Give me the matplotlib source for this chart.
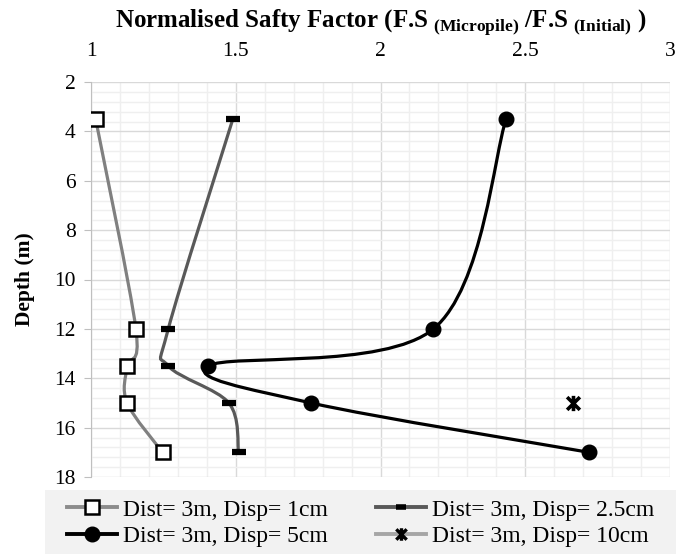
import numpy as np
import matplotlib
matplotlib.use("Agg")
import matplotlib.pyplot as plt
from matplotlib.path import Path
from matplotlib.patches import PathPatch, Rectangle
from matplotlib.lines import Line2D
from matplotlib.ticker import MultipleLocator

plt.rcParams['font.family'] = ['Liberation Serif', 'DejaVu Serif']
plt.rcParams['mathtext.fontset'] = 'custom'
plt.rcParams['mathtext.rm'] = 'Liberation Serif'
plt.rcParams['mathtext.bf'] = 'Liberation Serif:bold'

# data
depth = [3.5, 12, 13.5, 15, 17]
fs_1cm = [1.016, 1.155, 1.125, 1.125, 1.247]
fs_25cm = [1.49, 1.267, 1.267, 1.476, 1.51]
fs_5cm = [2.434, 2.183, 1.405, 1.76, 2.72]
depth_10cm = [15]
fs_10cm = [2.666]

labels = ["Dist= 3m, Disp= 1cm", "Dist= 3m, Disp= 2.5cm",
          "Dist= 3m, Disp= 5cm", "Dist= 3m, Disp= 10cm"]

star = Path([(-1, -1), (1, 1), (-1, 1), (1, -1), (0, -1.2), (0, 1.2)],
            [Path.MOVETO, Path.LINETO, Path.MOVETO, Path.LINETO, Path.MOVETO, Path.LINETO])


def smooth_path(xs, ys):
    # excel-like smoothed line: cubic bezier, catmull-rom control points
    pts = np.column_stack([xs, ys]).astype(float)
    n = len(pts)
    verts = [pts[0]]
    codes = [Path.MOVETO]
    for i in range(n - 1):
        p0 = pts[i - 1] if i > 0 else pts[i]
        p1 = pts[i]
        p2 = pts[i + 1]
        p3 = pts[i + 2] if i + 2 < n else pts[i + 1]
        verts += [p1 + (p2 - p0) / 6, p2 - (p3 - p1) / 6, p2]
        codes += [Path.CURVE4] * 3
    return Path(verts, codes)


fig = plt.figure(figsize=(6.76, 5.54), dpi=100)
ax = fig.add_axes([91 / 676, 1 - 477 / 554, 579 / 676, 395 / 554])

series = [
    (fs_1cm, '#808080', dict(marker='s', ms=10, mfc='white', mec='black', mew=1.8)),
    (fs_25cm, '#595959', dict(marker='_', ms=10, mec='black', mew=4.5)),
    (fs_5cm, 'black', dict(marker='o', ms=10.5, mfc='black', mec='black')),
]
for xs, col, mk in series:
    ax.add_patch(PathPatch(smooth_path(xs, depth), fill=False, edgecolor=col, lw=2.3, zorder=3))
    ax.plot(xs, depth, ls='none', zorder=4, **mk)
ax.plot(fs_10cm, depth_10cm, ls='none', marker=star, ms=11, mec='black', mew=2.6, zorder=4)

ax.set_xlim(1, 3)
ax.set_ylim(18, 2)
ax.xaxis.set_major_locator(MultipleLocator(0.5))
ax.xaxis.set_minor_locator(MultipleLocator(0.1))
ax.yaxis.set_major_locator(MultipleLocator(2))
ax.yaxis.set_minor_locator(MultipleLocator(0.4))
ax.set_xticks([1, 1.5, 2, 2.5, 3])
ax.set_xticklabels(['1', '1.5', '2', '2.5', '3'])
ax.xaxis.tick_top()
ax.xaxis.set_label_position('top')
ax.tick_params(axis='x', which='both', length=0, labelsize=15.5, pad=15)
ax.tick_params(axis='y', which='major', length=5, color='#bfbfbf', labelsize=15.5, pad=6)
ax.tick_params(axis='y', which='minor', length=0)
ax.grid(True, which='major', color='#d9d9d9', lw=1)
ax.grid(True, which='minor', color='#efefef', lw=1)
ax.set_axisbelow(True)
for s in ['top', 'right', 'bottom']:
    ax.spines[s].set_visible(False)
ax.spines['left'].set_color('#bfbfbf')

ax.set_xlabel(r'Normalised Safty Factor (F.S$_{\mathbf{\ (Micropile)}}$ /F.S$_{\mathbf{\ (Initial)}}$ )',
              fontsize=18, fontweight='bold', labelpad=11)
ax.set_ylabel('Depth (m)', fontsize=15.5, fontweight='bold', labelpad=14)

# legend with grey band
fig.patches.append(Rectangle((45 / 676, 0), 1, 64 / 554, transform=fig.transFigure,
                             facecolor='#f2f2f2', edgecolor='none', zorder=0))
handles = [
    Line2D([], [], color='#8c8c8c', lw=2.8, marker='s', ms=10, mfc='white', mec='black', mew=1.8),
    Line2D([], [], color='black', lw=2.8, marker='o', ms=10.5, mfc='black', mec='black'),
    Line2D([], [], color='#595959', lw=2.8, marker='_', ms=7, mec='black', mew=4),
    Line2D([], [], color='#a6a6a6', lw=2.8, marker=star, ms=9, mec='black', mew=2.4),
]
fig.legend(handles, [labels[0], labels[2], labels[1], labels[3]], ncol=2,
           loc='center left', bbox_to_anchor=(58 / 676, 31 / 554), frameon=False,
           fontsize=17, handlelength=2.1, handletextpad=0.25, columnspacing=2.05,
           labelspacing=0.2, borderaxespad=0)

fig.savefig('out.png', dpi=100)
